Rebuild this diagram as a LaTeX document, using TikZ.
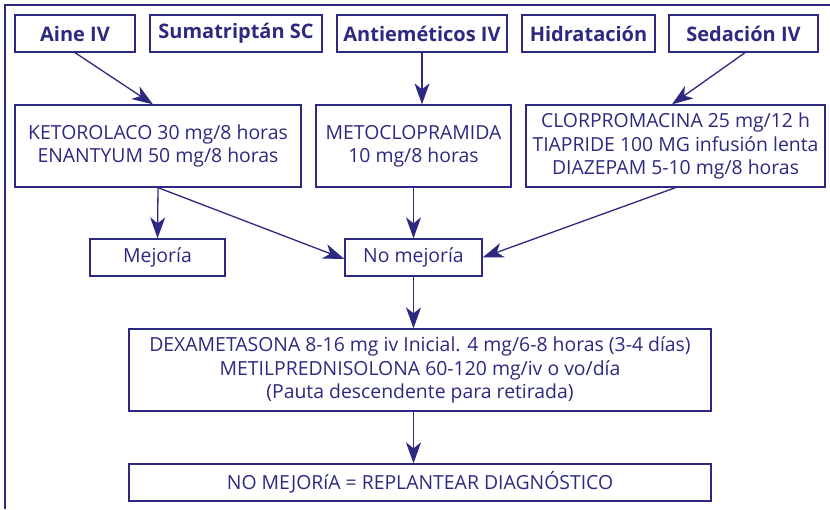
\documentclass[tikz,border=0pt]{standalone}
\usepackage{fontspec}
\setmainfont{Open Sans}
\usetikzlibrary{arrows.meta}
\definecolor{navy}{RGB}{43,42,128}
\begin{document}
\begin{tikzpicture}[x=1pt,y=-1pt,
  box/.style={draw=navy, line width=1.3pt, inner sep=0pt, text=navy, align=center,
    font=\fontsize{19.4}{23.3}\selectfont},
  head/.style={box, minimum height=37pt, font=\fontsize{20}{23}\selectfont\bfseries},
  arr/.style={draw=navy, line width=1.3pt, -{Stealth[length=21pt,width=15pt,inset=6pt]}}]
\useasboundingbox (0,0) rectangle (830,509);
% frame
\draw[navy, line width=2.6pt] (5,509) -- (5,5) -- (830,5);
% top row
\node[head, minimum width=120pt] (aine)  at (75,33.5)    {Aine IV};
\node[head, minimum width=172pt] (suma)  at (236,33.5)   {Sumatriptán SC};
\node[head, minimum width=170pt] (anti)  at (422,33.5)   {Antieméticos IV};
\node[head, minimum width=133pt] (hidra) at (588.5,33.5) {Hidratación};
\node[head, minimum width=149pt] (seda)  at (743.5,33.5) {Sedación IV};
% second row
\node[box, minimum width=286pt, minimum height=82pt] (keto) at (158,146)
  {KETOROLACO 30 mg/8 horas\\ENANTYUM 50 mg/8 horas};
\node[box, minimum width=195pt, minimum height=82pt] (meto) at (413.5,146)
  {METOCLOPRAMIDA\\10 mg/8 horas};
\node[box, minimum width=299pt, minimum height=82pt] (clor) at (675.5,146)
  {CLORPROMACINA 25 mg/12 h\\TIAPRIDE 100 MG infusión lenta\\DIAZEPAM 5-10 mg/8 horas};
% third row
\node[box, minimum width=135pt, minimum height=37pt] (mejoria) at (157.5,257.5) {Mejoría};
\node[box, minimum width=137pt, minimum height=37pt] (nomej)   at (413.5,257.5) {No mejoría};
% fourth row
\node[box, minimum width=582pt, minimum height=82pt] (dexa) at (420,370)
  {DEXAMETASONA 8-16 mg iv Inicial. 4 mg/6-8 horas (3-4 días)\\METILPREDNISOLONA 60-120 mg/iv o vo/día\\(Pauta descendente para retirada)};
% fifth row
\node[box, minimum width=582pt, minimum height=37pt] (final) at (420,482.5)
  {NO MEJORíA = REPLANTEAR DIAGNÓSTICO};
% connectors
\draw[arr] (aine.south) -- ([xshift=-5pt]keto.north);
\draw[arr] (anti.south) -- (anti.south |- meto.north);
\draw[arr] ([xshift=1.5pt]seda.south) -- ([xshift=-3.5pt]clor.north);
\draw[arr] (keto.south) -- (mejoria.north);
\draw[arr] (keto.south) -- ([yshift=-1.5pt]nomej.west);
\draw[arr] (meto.south) -- (nomej.north);
\draw[arr] (clor.south) -- (nomej.east);
\draw[arr] (nomej.south) -- (nomej.south |- dexa.north);
\draw[arr] (nomej.south |- dexa.south) -- (nomej.south |- final.north);
\end{tikzpicture}
\end{document}
